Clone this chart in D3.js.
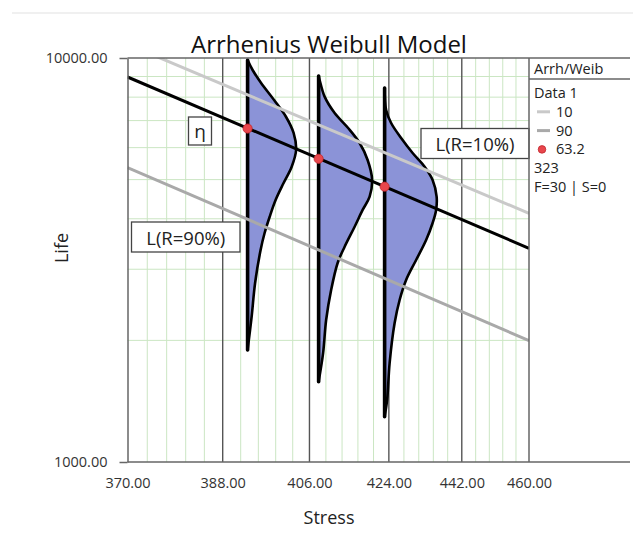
<!DOCTYPE html>
<html>
<head>
<meta charset="utf-8">
<script src="https://cdn.jsdelivr.net/npm/d3@7"></script>
<style>
  body { margin: 0; background: #fff; }
  svg { display: block; font-family: "Open Sans", sans-serif; }
</style>
</head>
<body>
<svg id="chart" width="633" height="533"></svg>
<script>
// ---- data ----
const stressTicks = [370, 388, 406, 424, 442, 460];
const stressMinor = [373.6, 377.2, 380.8, 384.4, 391.6, 395.2, 398.8, 402.4,
                     409.6, 413.2, 416.8, 420.4, 427.6, 431.2, 434.8, 438.4,
                     445.6, 449.2, 452.8, 456.4];
const lifeTicks = [1000, 10000];
const lifeMinor = [2000, 3000, 4000, 5000, 6000, 7000, 8000, 9000];

// test stress levels and the characteristic life (eta) at each
const stressLevels = [393, 408, 423];
const etaAtStress = [6690, 5630, 4803];

// life-stress lines: [stress, life] at both ends of the stress range
const etaLine = [[370, 8974], [460, 3381]];
const life10Line = [[370, 10812], [460, 4127]];
const life90Line = [[370, 5353], [460, 1998]];

// Weibull pdf at each stress level: [life, relative density]
const pdf393 = [[9887, 0], [9339, 0.10], [8672, 0.27], [7870, 0.53], [7145, 0.77],
  [6523, 0.92], [5920, 0.97], [5374, 0.88], [4905, 0.72], [4452, 0.56],
  [4041, 0.44], [3688, 0.34], [3348, 0.26], [2774, 0.15], [2285, 0.08], [1894, 0]];
const pdf408 = [[9025, 0], [8822, 0.02], [8023, 0.12], [7309, 0.32], [6711, 0.59],
  [6160, 0.82], [5591, 0.98], [4989, 1.07], [4537, 1.02], [4206, 0.88],
  [3823, 0.72], [3411, 0.52], [3109, 0.38], [2665, 0.25], [2246, 0.15],
  [1862, 0.09], [1581, 0]];
const pdf423 = [[8427, 0], [7434, 0.03], [6904, 0.13], [6339, 0.33], [5820, 0.56],
  [5383, 0.80], [4989, 0.96], [4537, 1.04], [4206, 1.03], [3905, 0.96],
  [3544, 0.83], [3162, 0.63], [2822, 0.43], [2518, 0.30], [2208, 0.20],
  [1758, 0.10], [1424, 0.05], [1295, 0]];
const pdfs = [pdf393, pdf408, pdf423];

const legendTitle = "Arrh/Weib";
const legendRows = [
  { kind: "text", label: "Data 1" },
  { kind: "line", label: "10", color: "#c9c9c9" },
  { kind: "line", label: "90", color: "#a9a9a9" },
  { kind: "dot", label: "63.2" },
  { kind: "text", label: "323" },
  { kind: "text", label: "F=30 | S=0" }
];

// ---- layout ----
const plot = { left: 127.5, right: 529, top: 58, bottom: 462 };
const svg = d3.select("#chart");

// Arrhenius plot: stress on a reciprocal axis, life on a log axis
const xInv = d3.scaleLinear().domain([1 / 370, 1 / 460]).range([plot.left, plot.right]);
const x = v => xInv(1 / v);
const y = d3.scaleLog().domain([1000, 10000]).range([plot.bottom, plot.top]);
const w = d3.scaleLinear().domain([0, 1]).range([0, 50]);

// separator line at the top of the page
svg.append("line").attr("x1", 12).attr("x2", 633).attr("y1", 13).attr("y2", 13)
  .attr("stroke", "#e2e2e2").attr("stroke-width", 1.2);

svg.append("defs").append("clipPath").attr("id", "plotClip")
  .append("rect").attr("x", plot.left).attr("y", plot.top)
  .attr("width", plot.right - plot.left).attr("height", plot.bottom - plot.top);

// minor grid
const grid = svg.append("g");
grid.selectAll(".vmin").data(stressMinor).join("line")
  .attr("x1", d => x(d)).attr("x2", d => x(d))
  .attr("y1", plot.top).attr("y2", plot.bottom)
  .attr("stroke", "#cbe6c3").attr("stroke-width", 1);
grid.selectAll(".hmin").data(lifeMinor).join("line")
  .attr("x1", plot.left).attr("x2", plot.right)
  .attr("y1", d => y(d)).attr("y2", d => y(d))
  .attr("stroke", "#cbe6c3").attr("stroke-width", 1);
// major stress grid
grid.selectAll(".vmaj").data(stressTicks.slice(1, -1)).join("line")
  .attr("x1", d => x(d)).attr("x2", d => x(d))
  .attr("y1", plot.top).attr("y2", plot.bottom)
  .attr("stroke", "#555").attr("stroke-width", 1.4);

// pdfs
const plotG = svg.append("g").attr("clip-path", "url(#plotClip)");
pdfs.forEach((pdf, i) => {
  const base = x(stressLevels[i]);
  const line = d3.line()
    .x(d => base + w(d[1]))
    .y(d => y(d[0]))
    .curve(d3.curveCatmullRom.alpha(0.5));
  plotG.append("path")
    .attr("d", line(pdf) + "Z")
    .attr("fill", "#8b93d7")
    .attr("stroke", "#000").attr("stroke-width", 2.6)
    .attr("stroke-linejoin", "round");
  plotG.append("line")
    .attr("x1", base).attr("x2", base)
    .attr("y1", y(pdf[0][0])).attr("y2", y(pdf[pdf.length - 1][0]))
    .attr("stroke", "#000").attr("stroke-width", 3.6).attr("stroke-linecap", "round");
});

// life-stress lines
const lsLine = d3.line().x(d => x(d[0])).y(d => y(d[1]));
plotG.append("path").attr("d", lsLine(life10Line)).attr("fill", "none")
  .attr("stroke", "#c9c9c9").attr("stroke-width", 3);
plotG.append("path").attr("d", lsLine(life90Line)).attr("fill", "none")
  .attr("stroke", "#a9a9a9").attr("stroke-width", 3);
plotG.append("path").attr("d", lsLine(etaLine)).attr("fill", "none")
  .attr("stroke", "#000").attr("stroke-width", 3);

// eta points
svg.selectAll(".eta").data(stressLevels).join("circle")
  .attr("cx", d => x(d)).attr("cy", (d, i) => y(etaAtStress[i]))
  .attr("r", 4.6).attr("fill", "#e8464c").attr("stroke", "#c0282e").attr("stroke-width", 0.8);

// boxed labels
function boxLabel(text, x0, y0, bw, bh, fs) {
  const g = svg.append("g");
  g.append("rect").attr("x", x0).attr("y", y0).attr("width", bw).attr("height", bh)
    .attr("fill", "#fff").attr("stroke", "#444").attr("stroke-width", 1.3);
  g.append("text").attr("x", x0 + bw / 2).attr("y", y0 + bh / 2)
    .attr("text-anchor", "middle").attr("dominant-baseline", "central")
    .attr("font-size", fs).attr("fill", "#222").text(text);
}
boxLabel("η", 188.5, 117, 23, 28, 19);
boxLabel("L(R=90%)", 131.5, 222, 108.5, 30, 18.5);
boxLabel("L(R=10%)", 421, 128.5, 108, 30, 18.5);

// axes
const yAxis = d3.axisLeft(y).tickValues(lifeTicks).tickFormat(d3.format(".2f"))
  .tickSizeInner(8).tickSizeOuter(0).tickPadding(12);
const yG = svg.append("g").attr("transform", `translate(${plot.left},0)`).call(yAxis);
yG.select(".domain").attr("stroke", "#666").attr("stroke-width", 1.5);
yG.selectAll(".tick line").attr("stroke", "#666").attr("stroke-width", 1.5);
yG.selectAll("text").attr("font-size", 14.5).attr("fill", "#333")
  .attr("font-family", "'Open Sans', sans-serif");

const xAxis = d3.axisBottom(xInv).tickValues(stressTicks.map(v => 1 / v))
  .tickFormat(d => d3.format(".2f")(1 / d)).tickSize(0).tickPadding(16);
const xG = svg.append("g").attr("transform", `translate(0,${plot.bottom})`).call(xAxis);
xG.select(".domain").remove();
xG.selectAll("text").attr("font-size", 14.5).attr("fill", "#333")
  .attr("font-family", "'Open Sans', sans-serif");

// frame: left/right borders, top and bottom lines running under the legend column
svg.append("line").attr("x1", plot.left).attr("x2", 630).attr("y1", plot.bottom).attr("y2", plot.bottom)
  .attr("stroke", "#666").attr("stroke-width", 1.5);
svg.append("line").attr("x1", plot.left).attr("x2", 630).attr("y1", plot.top).attr("y2", plot.top)
  .attr("stroke", "#666").attr("stroke-width", 1.5);
svg.append("line").attr("x1", plot.right).attr("x2", plot.right).attr("y1", plot.top).attr("y2", plot.bottom)
  .attr("stroke", "#666").attr("stroke-width", 1.5);

// titles
svg.append("text").attr("x", 329).attr("y", 53).attr("text-anchor", "middle")
  .attr("font-size", 24).attr("fill", "#111").text("Arrhenius Weibull Model");
svg.append("text").attr("x", 329).attr("y", 524).attr("text-anchor", "middle")
  .attr("font-size", 18).attr("fill", "#222").text("Stress");
svg.append("text").attr("transform", "translate(68,248) rotate(-90)").attr("text-anchor", "middle")
  .attr("font-size", 18).attr("fill", "#222").text("Life");

// legend
const lg = svg.append("g");
lg.append("text").attr("x", 534).attr("y", 74).attr("font-size", 14.5).attr("fill", "#222").text(legendTitle);
lg.append("line").attr("x1", plot.right).attr("x2", 630).attr("y1", 79).attr("y2", 79)
  .attr("stroke", "#666").attr("stroke-width", 1.5);
legendRows.forEach((r, i) => {
  const ty = 98 + i * 18.8;
  const tx = r.kind === "text" ? 534 : 556;
  if (r.kind === "line") {
    lg.append("line").attr("x1", 537).attr("x2", 550).attr("y1", ty - 5).attr("y2", ty - 5)
      .attr("stroke", r.color).attr("stroke-width", 3);
  } else if (r.kind === "dot") {
    lg.append("circle").attr("cx", 542).attr("cy", ty - 5).attr("r", 3.8)
      .attr("fill", "#e8464c").attr("stroke", "#c0282e").attr("stroke-width", 0.8);
  }
  lg.append("text").attr("x", tx).attr("y", ty).attr("font-size", 14.5).attr("fill", "#222").text(r.label);
});
</script>
</body>
</html>
